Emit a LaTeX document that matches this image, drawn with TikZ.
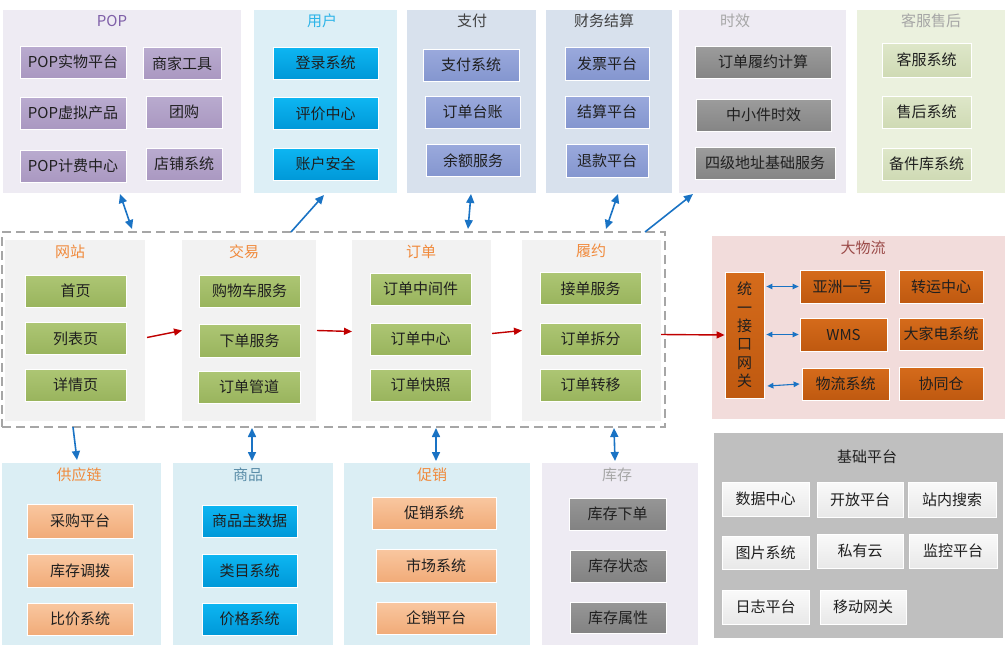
\documentclass[tikz,border=0pt]{standalone}
\usepackage{fontspec}
\setmainfont{Noto Sans CJK SC}
\usetikzlibrary{arrows.meta}

\definecolor{boxtext}{HTML}{1F1F1F}
\definecolor{popbg}{HTML}{EEEBF3}
\definecolor{popttl}{HTML}{7F5FA8}
\definecolor{userbg}{HTML}{DDEFF6}
\definecolor{userttl}{HTML}{2DB4E8}
\definecolor{paybg}{HTML}{D8E1ED}
\definecolor{darkttl}{HTML}{404040}
\definecolor{greyttl}{HTML}{A6A6A6}
\definecolor{svcbg}{HTML}{EBF1DE}
\definecolor{midbg}{HTML}{F2F2F2}
\definecolor{orangettl}{HTML}{F08A3C}
\definecolor{logibg}{HTML}{F2DCDB}
\definecolor{logittl}{HTML}{9B4A48}
\definecolor{lowbg}{HTML}{DBEEF4}
\definecolor{goodsttl}{HTML}{5A8DA8}
\definecolor{basebg}{HTML}{BFBFBF}
\definecolor{linkblue}{HTML}{1A73C4}
\definecolor{flowred}{HTML}{C00000}
\definecolor{dashgray}{HTML}{A6A6A6}
\definecolor{poptop}{HTML}{B9ABCF}
\definecolor{popbot}{HTML}{AA98C1}
\definecolor{usertop}{HTML}{0DB6F2}
\definecolor{userbot}{HTML}{0098D8}
\definecolor{paytop}{HTML}{9AA9DC}
\definecolor{paybot}{HTML}{8496CF}
\definecolor{timetop}{HTML}{9C9C9C}
\definecolor{timebot}{HTML}{858585}
\definecolor{svctop}{HTML}{DEE7C9}
\definecolor{svcbot}{HTML}{CFDAB4}
\definecolor{greentop}{HTML}{ADC674}
\definecolor{greenbot}{HTML}{99B45D}
\definecolor{logitop}{HTML}{D56B1B}
\definecolor{logibot}{HTML}{BF5910}
\definecolor{peachtop}{HTML}{F9C7A0}
\definecolor{peachbot}{HTML}{F1AB78}
\definecolor{stocktop}{HTML}{969696}
\definecolor{stockbot}{HTML}{828282}
\definecolor{basetop}{HTML}{FAFAFA}
\definecolor{basebot}{HTML}{E8E8E8}

\tikzset{
	panel/.style={rectangle, anchor=north west, inner sep=0pt, outer sep=0pt},
	dashframe/.style={panel, draw=dashgray, line width=1.2pt, dash pattern=on 9pt off 5pt},
	ptitle/.style={font=\fontsize{15}{17}\selectfont},
	box/.style={rectangle, draw=white, line width=0.8pt, minimum height=32pt, inner sep=0pt, text=boxtext, font=\fontsize{15}{17}\selectfont},
	popbox/.style={box, top color=poptop, bottom color=popbot},
	userbox/.style={box, top color=usertop, bottom color=userbot},
	paybox/.style={box, top color=paytop, bottom color=paybot},
	timebox/.style={box, top color=timetop, bottom color=timebot},
	svcbox/.style={box, top color=svctop, bottom color=svcbot},
	greenbox/.style={box, top color=greentop, bottom color=greenbot},
	logibox/.style={box, top color=logitop, bottom color=logibot},
	peachbox/.style={box, top color=peachtop, bottom color=peachbot},
	stockbox/.style={box, top color=stocktop, bottom color=stockbot},
	basebox/.style={box, top color=basetop, bottom color=basebot},
	flow/.style={draw=flowred, line width=1.4pt, -{Triangle[length=8pt,width=7pt]}},
	link/.style={draw=linkblue, line width=1.6pt, >={Triangle[length=9pt,width=8pt]}},
	gwlink/.style={draw=linkblue, line width=1.1pt, >={Triangle[length=6pt,width=5.5pt]}}
}

\begin{document}
\begin{tikzpicture}[x=1pt, y=-1pt]
	\useasboundingbox (0,0) rectangle (1007,645);

	\node[panel, fill=popbg, minimum width=238pt, minimum height=183pt] (pop) at (3,10) {};
	\node[ptitle, text=popttl] (popttl) at (112,21) {POP};
	\node[popbox, minimum width=106pt] (popsw) at (73,62) {POP实物平台};
	\node[popbox, minimum width=78pt] (sjgj) at (182,63.5) {商家工具};
	\node[popbox, minimum width=106pt] (popxn) at (73,113) {POP虚拟产品};
	\node[popbox, minimum width=76pt] (tg) at (184,112) {团购};
	\node[popbox, minimum width=106pt] (popjf) at (73,166) {POP计费中心};
	\node[popbox, minimum width=76pt] (dpxt) at (184,164) {店铺系统};

	\node[panel, fill=userbg, minimum width=143pt, minimum height=183pt] (user) at (254,10) {};
	\node[ptitle, text=userttl] (userttl) at (322,21) {用户};
	\node[userbox, minimum width=105pt] (dlxt) at (325.5,63) {登录系统};
	\node[userbox, minimum width=105pt] (pjzx) at (325.5,113.5) {评价中心};
	\node[userbox, minimum width=105pt] (zhaq) at (325.5,164) {账户安全};

	\node[panel, fill=paybg, minimum width=129pt, minimum height=183pt] (pay) at (407,10) {};
	\node[ptitle, text=darkttl] (payttl) at (472,21) {支付};
	\node[paybox, minimum width=96pt] (zfxt) at (471,65) {支付系统};
	\node[paybox, minimum width=95pt] (ddtz) at (472.5,112) {订单台账};
	\node[paybox, minimum width=94pt] (yefw) at (473,160.5) {余额服务};

	\node[panel, fill=paybg, minimum width=126pt, minimum height=183pt] (fin) at (546,10) {};
	\node[ptitle, text=darkttl] (finttl) at (604,21) {财务结算};
	\node[paybox, minimum width=84pt, minimum height=33pt] (fppt) at (607,63.5) {发票平台};
	\node[paybox, minimum width=84pt] (jspt) at (607,112) {结算平台};
	\node[paybox, minimum width=82pt, minimum height=33pt] (tkpt) at (607,160.5) {退款平台};

	\node[panel, fill=popbg, minimum width=167pt, minimum height=183pt] (time) at (679,10) {};
	\node[ptitle, text=greyttl] (timettl) at (735,21) {时效};
	\node[timebox, minimum width=136pt] (ddlyjs) at (763,62) {订单履约计算};
	\node[timebox, minimum width=135pt] (zxjsx) at (763.5,115) {中小件时效};
	\node[timebox, minimum width=140pt] (sjdz) at (765,163) {四级地址基础服务};

	\node[panel, fill=svcbg, minimum width=148pt, minimum height=183pt] (svc) at (857,10) {};
	\node[ptitle, text=greyttl] (svcttl) at (931,21) {客服售后};
	\node[svcbox, minimum width=89pt, minimum height=34pt] (kfxt) at (926.5,60) {客服系统};
	\node[svcbox, minimum width=89pt] (shxt) at (926.5,112) {售后系统};
	\node[svcbox, minimum width=89pt] (bjk) at (926.5,164) {备件库系统};

	\node[dashframe, minimum width=663pt, minimum height=195pt] (dash) at (2,232) {};

	\node[panel, fill=midbg, minimum width=140pt, minimum height=181pt] (site) at (5,240) {};
	\node[ptitle, text=orangettl] (sitettl) at (70,252) {网站};
	\node[greenbox, minimum width=101pt] (sy) at (75.5,291) {首页};
	\node[greenbox, minimum width=101pt] (lby) at (75.5,338.5) {列表页};
	\node[greenbox, minimum width=101pt] (xqy) at (75.5,385) {详情页};

	\node[panel, fill=midbg, minimum width=134pt, minimum height=181pt] (trade) at (182,240) {};
	\node[ptitle, text=orangettl] (tradettl) at (244,252) {交易};
	\node[greenbox, minimum width=101pt] (gwc) at (249.5,291) {购物车服务};
	\node[greenbox, minimum width=101pt, minimum height=33pt] (xdfw) at (249.5,340.5) {下单服务};
	\node[greenbox, minimum width=102pt] (ddgd) at (249,387) {订单管道};

	\node[panel, fill=midbg, minimum width=139pt, minimum height=181pt] (order) at (352,240) {};
	\node[ptitle, text=orangettl] (orderttl) at (421,252) {订单};
	\node[greenbox, minimum width=101pt] (ddzjj) at (420.5,289) {订单中间件};
	\node[greenbox, minimum width=101pt] (ddzx) at (420.5,339) {订单中心};
	\node[greenbox, minimum width=101pt] (ddkz) at (420.5,385) {订单快照};

	\node[panel, fill=midbg, minimum width=139pt, minimum height=181pt] (fulfil) at (522,240) {};
	\node[ptitle, text=orangettl] (fulfilttl) at (591,251) {履约};
	\node[greenbox, minimum width=101pt] (jdfw) at (590.5,288.5) {接单服务};
	\node[greenbox, minimum width=101pt] (ddcf) at (590.5,339) {订单拆分};
	\node[greenbox, minimum width=101pt] (ddzy) at (590.5,385) {订单转移};

	\node[panel, fill=logibg, minimum width=293pt, minimum height=183pt] (logi) at (712,236) {};
	\node[ptitle, text=logittl] (logittl) at (863,248) {大物流};
	\node[logibox, minimum width=39pt, minimum height=126pt, align=center, font=\fontsize{15}{18.3}\selectfont] (gw) at (744.5,335) {统\\一\\接\\口\\网\\关};
	\node[logibox, minimum width=85pt, minimum height=33pt] (yzyh) at (842.5,286.5) {亚洲一号};
	\node[logibox, minimum width=84pt, minimum height=33pt] (zyzx) at (941,286.5) {转运中心};
	\node[logibox, minimum width=87pt, minimum height=33pt] (wms) at (843.5,334.5) {WMS};
	\node[logibox, minimum width=84pt] (djd) at (941,334) {大家电系统};
	\node[logibox, minimum width=87pt] (wlxt) at (845.5,384) {物流系统};
	\node[logibox, minimum width=84pt, minimum height=33pt] (xtc) at (941,383.5) {协同仓};

	\node[panel, fill=lowbg, minimum width=159pt, minimum height=182pt] (supply) at (2,463) {};
	\node[ptitle, text=orangettl] (supplyttl) at (79,475) {供应链};
	\node[peachbox, minimum width=106pt, minimum height=34pt] (cgpt) at (80,521) {采购平台};
	\node[peachbox, minimum width=106pt, minimum height=33pt] (kcdb) at (80,570.5) {库存调拨};
	\node[peachbox, minimum width=106pt] (bjxt) at (80,619) {比价系统};

	\node[panel, fill=lowbg, minimum width=160pt, minimum height=182pt] (goods) at (173,463) {};
	\node[ptitle, text=goodsttl] (goodsttl) at (248,475) {商品};
	\node[userbox, minimum width=95pt] (spzsj) at (249.5,521) {商品主数据};
	\node[userbox, minimum width=95pt, minimum height=33pt] (lmxt) at (249.5,570.5) {类目系统};
	\node[userbox, minimum width=95pt] (jgxt) at (249.5,619) {价格系统};

	\node[panel, fill=lowbg, minimum width=186pt, minimum height=182pt] (promo) at (344,463) {};
	\node[ptitle, text=orangettl] (promottl) at (432,475) {促销};
	\node[peachbox, minimum width=124pt] (cxxt) at (434,513) {促销系统};
	\node[peachbox, minimum width=120pt, minimum height=33pt] (scxt) at (436,565.5) {市场系统};
	\node[peachbox, minimum width=120pt] (qxpt) at (436,618) {企销平台};

	\node[panel, fill=popbg, minimum width=156pt, minimum height=182pt] (stock) at (542,463) {};
	\node[ptitle, text=greyttl] (stockttl) at (617,475) {库存};
	\node[stockbox, minimum width=97pt] (kcxd) at (617.5,514) {库存下单};
	\node[stockbox, minimum width=96pt] (kczt) at (618,566) {库存状态};
	\node[stockbox, minimum width=96pt, minimum height=31pt] (kcsx) at (618,618) {库存属性};

	\node[panel, fill=basebg, minimum width=289pt, minimum height=205pt] (base) at (714,433) {};
	\node[ptitle, text=boxtext] (basettl) at (867,457) {基础平台};
	\node[basebox, minimum width=87pt, minimum height=34pt] (sjzx) at (765.5,499) {数据中心};
	\node[basebox, minimum width=86pt, minimum height=35pt] (kfpt) at (860,499.5) {开放平台};
	\node[basebox, minimum width=88pt, minimum height=35pt] (znss) at (952,499.5) {站内搜索};
	\node[basebox, minimum width=87pt, minimum height=33pt] (tpxt) at (765.5,552.5) {图片系统};
	\node[basebox, minimum width=86pt, minimum height=34pt] (syy) at (860,551) {私有云};
	\node[basebox, minimum width=88pt, minimum height=34pt] (jkpt) at (953,551) {监控平台};
	\node[basebox, minimum width=87pt, minimum height=34pt] (rzpt) at (765.5,607) {日志平台};
	\node[basebox, minimum width=86pt, minimum height=34pt] (ydwg) at (863,607) {移动网关};

	\draw[flow] ([xshift=2pt,yshift=-7pt]site.east) -- (trade.west);
	\draw[flow] ([xshift=1pt]trade.east) -- ([yshift=-1pt]order.west);
	\draw[flow] ([xshift=1pt,yshift=-3pt]order.east) -- (fulfil.west);
	\draw[flow] ([yshift=-4pt]fulfil.east) -- (gw.west);

	\draw[link, <->] ([xshift=117pt,yshift=-1pt]pop.south west) -- ([xshift=130pt,yshift=3pt]dash.north west);
	\draw[link, ->] ([xshift=289pt]dash.north west) -- ([xshift=70pt,yshift=-2pt]user.south west);
	\draw[link, <->] ([xshift=64pt,yshift=-1pt]pay.south west) -- ([xshift=466pt,yshift=3pt]dash.north west);
	\draw[link, <->] ([xshift=72pt,yshift=-1pt]fin.south west) -- ([xshift=604pt,yshift=3pt]dash.north west);
	\draw[link, ->] ([xshift=643pt]dash.north west) -- ([xshift=14pt,yshift=-1pt]time.south west);

	\draw[link, ->] ([xshift=71pt]dash.south west) -- ([xshift=75pt,yshift=3pt]supply.north west);
	\draw[link, <->] ([xshift=250pt,yshift=-1pt]dash.south west) -- ([xshift=79pt,yshift=2pt]goods.north west);
	\draw[link, <->] ([xshift=434pt,yshift=-1pt]dash.south west) -- ([xshift=92pt,yshift=2pt]promo.north west);
	\draw[link, <->] ([xshift=612pt,yshift=-1pt]dash.south west) -- ([xshift=73pt,yshift=2pt]stock.north west);

	\draw[gwlink, <->] ([xshift=2pt]gw.east |- yzyh.west) -- ([xshift=-1pt]yzyh.west);
	\draw[gwlink, <->] ([xshift=2pt]gw.east |- wms.west) -- ([xshift=-1pt]wms.west);
	\draw[gwlink, <->] ([xshift=3pt,yshift=-2pt]gw.east |- wlxt.west) -- ([xshift=-2pt]wlxt.west);
\end{tikzpicture}
\end{document}
